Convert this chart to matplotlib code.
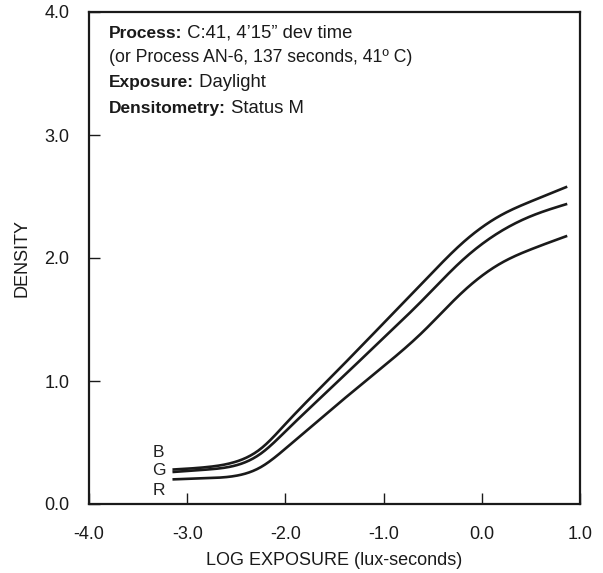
import matplotlib
matplotlib.use("Agg")
import matplotlib.pyplot as plt
import numpy as np

plt.rcParams['font.family'] = ['Liberation Sans', 'DejaVu Sans']

# log exposure / density points
log_e = [-3.15, -2.8, -2.5, -2.25, -2.0, -1.5, -1.0, -0.6, -0.2, 0.2, 0.5, 0.87]
dens_b = [0.28, 0.30, 0.345, 0.45, 0.65, 1.06, 1.47, 1.80, 2.12, 2.35, 2.46, 2.58]
dens_g = [0.26, 0.28, 0.315, 0.41, 0.59, 0.97, 1.35, 1.66, 1.98, 2.22, 2.34, 2.44]
dens_r = [0.20, 0.21, 0.23, 0.30, 0.45, 0.79, 1.12, 1.40, 1.72, 1.96, 2.07, 2.18]

curve_names = ['B', 'G', 'R']
curve_label_y = [0.42, 0.27, 0.11]

x_ticks = [-4.0, -3.0, -2.0, -1.0, 0.0, 1.0]
y_ticks = [0.0, 1.0, 2.0, 3.0, 4.0]

info = [("Process:", "C:41, 4\u201915\u201d dev time"),
        ("", "(or Process AN-6, 137 seconds, 41\u00ba C)"),
        ("Exposure:", "Daylight"),
        ("Densitometry:", "Status M")]
info_y = [3.79, 3.593, 3.39, 3.179]


def spline(x, y, n=300):
    # natural cubic spline through the read points
    x = np.asarray(x, float)
    y = np.asarray(y, float)
    m = len(x)
    h = np.diff(x)
    A = np.zeros((m, m))
    r = np.zeros(m)
    A[0, 0] = A[-1, -1] = 1
    for i in range(1, m - 1):
        A[i, i - 1] = h[i - 1]
        A[i, i] = 2 * (h[i - 1] + h[i])
        A[i, i + 1] = h[i]
        r[i] = 6 * ((y[i + 1] - y[i]) / h[i] - (y[i] - y[i - 1]) / h[i - 1])
    M = np.linalg.solve(A, r)
    xs = np.linspace(x[0], x[-1], n)
    k = np.clip(np.searchsorted(x, xs) - 1, 0, m - 2)
    t0 = x[k + 1] - xs
    t1 = xs - x[k]
    hk = h[k]
    ys = (M[k] * t0**3 + M[k + 1] * t1**3) / (6 * hk) \
        + (y[k] / hk - M[k] * hk / 6) * t0 + (y[k + 1] / hk - M[k + 1] * hk / 6) * t1
    return xs, ys


fig = plt.figure(figsize=(6.03, 5.73), dpi=100)
fig.subplots_adjust(left=89/603, right=580/603, top=1-12/573, bottom=1-504/573)
ax = fig.add_subplot(111)

for dens in (dens_b, dens_g, dens_r):
    xs, ys = spline(log_e, dens)
    ax.plot(xs, ys, color='#1a1a1a', lw=1.9, solid_capstyle='butt')

for name, yy in zip(curve_names, curve_label_y):
    ax.text(-3.29, yy, name, fontsize=12.5, ha='center', va='center', color='#222222')

for (bold, rest), yy in zip(info, info_y):
    if bold:
        t = ax.text(-3.80, yy, bold, fontsize=12.5, fontweight='bold', va='baseline', color='#1a1a1a')
        ax.annotate(" " + rest, xy=(1, yy), xycoords=(t, 'data'), fontsize=13.3,
                    va='baseline', ha='left', color='#1a1a1a')
    else:
        ax.text(-3.80, yy, rest, fontsize=12.7, va='baseline', color='#1a1a1a')

ax.set_xlim(-4, 1)
ax.set_ylim(0, 4)
ax.set_xticks(x_ticks)
ax.set_yticks(y_ticks)
ax.set_xticklabels([f"{v:.1f}" for v in x_ticks])
ax.set_yticklabels([f"{v:.1f}" for v in y_ticks])
ax.tick_params(direction='in', length=8, width=1, labelsize=13, pad=14, colors='#1a1a1a')
ax.tick_params(axis='x', pad=16)
for s in ax.spines.values():
    s.set_linewidth(1.6)
    s.set_color('#1a1a1a')

ax.set_xlabel("LOG EXPOSURE (lux-seconds)", fontsize=13, labelpad=6, color='#1a1a1a')
ax.set_ylabel("DENSITY", fontsize=13, labelpad=10, color='#1a1a1a')

plt.savefig('out.png', dpi=100)
